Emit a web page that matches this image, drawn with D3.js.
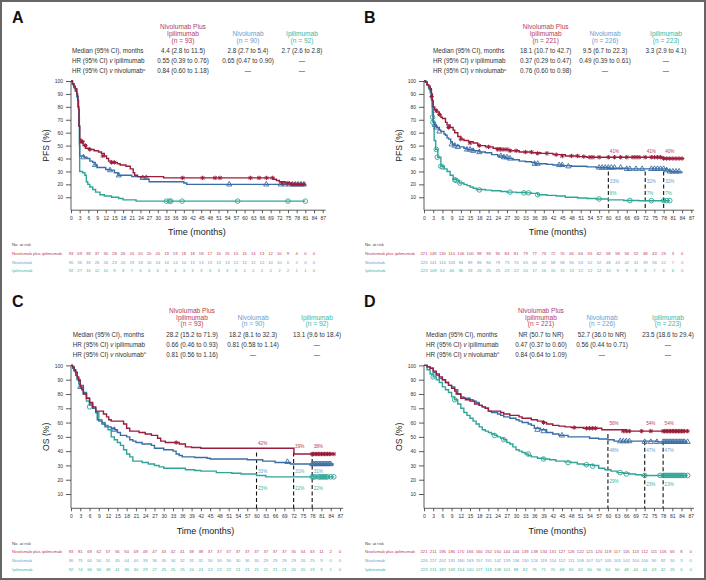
<!DOCTYPE html>
<html><head><meta charset="utf-8">
<script src="https://cdn.jsdelivr.net/npm/d3@7"></script>
<style>body{margin:0;background:#fff}svg{display:block}text{font-family:"Liberation Sans",Arial,sans-serif}</style>
</head><body><svg id="c" width="706" height="580"></svg>
<script>
// ---------- DATA ----------
const seriesNames = ["Nivolumab plus ipilimumab","Nivolumab","Ipilimumab"];
const xTickLabels = [0,3,6,9,12,15,18,21,24,27,30,33,36,39,42,45,48,51,54,57,60,63,66,69,72,75,78,81,84,87];
const yTickLabels = [10,20,30,40,50,60,70,80,90,100];
const landmarkMonths = [60,72,78];

// Panel A (PFS, stage III?)
const headA = {n:[93,90,92], median:["4.4 (2.8 to 11.5)","2.8 (2.7 to 5.4)","2.7 (2.6 to 2.8)"], hrIpi:["0.55 (0.39 to 0.76)","0.65 (0.47 to 0.90)","—"], hrNivo:["0.84 (0.60 to 1.18)","—","—"]};
const aNI = [[0,100],[0.5,98],[1,96],[1.5,94],[2,90],[2.3,85],[2.6,78],[2.8,65],[3,55],[3.5,53],[4.2,50],[5,48],[6.5,47],[8,46],[9.5,45],[10.5,44],[11.5,42],[12.3,40],[13,38],[14,37],[16,36],[17,35],[19,34],[20.5,32],[21.5,29],[22,27],[23,26],[32,25],[70,24],[71,23],[72,22],[74,21],[76,20],[81,20]];
const aNivo = [[0,100],[0.5,98],[1,95],[1.5,92],[2,88],[2.4,80],[2.7,65],[3,42],[4.5,41],[5.5,40],[6.5,38],[7.5,37],[8.3,35],[9,33],[12,31.5],[13.4,31],[15,29],[16.3,27],[21,26],[24,25],[26,24],[27,22],[39,21],[40,20],[81,20]];
const aIpi = [[0,100],[0.5,97],[1,95],[1.5,93],[2,88],[2.4,80],[2.7,72],[2.9,50],[3,30],[4,29],[4.8,27],[5.3,22],[5.8,20],[6.5,18],[7.5,16],[8.5,14],[10,12],[11.5,11],[14,10],[16.5,9],[18,8],[22.5,7],[81,7]];
const aNIcens = [[3.5,53],[4,53],[5,50],[6.5,47],[11,42],[14,37],[15,37],[38.6,25],[45.5,25],[49.8,25],[51.5,25],[62,25],[65,25],[67.6,25],[69.7,25],[73,21],[75,21],[76.5,20],[77.5,20],[78.5,20],[79.5,20],[80.5,20]];
const aNivoCens = [[4.3,41],[8.3,35],[13.5,31],[16.5,27],[24.8,25],[26,25],[54.7,20],[67.5,20],[72.5,20],[74,20],[75.5,20],[76.5,20],[77.5,20],[78.5,20],[79.5,20],[80.5,20]];
const aIpiCens = [[33,7],[34,7],[34.5,7],[38.4,7],[57.6,7],[75,7],[81,7]];
const aRiskNI = [93,69,39,37,30,28,26,24,20,20,20,19,19,18,18,18,17,16,15,15,15,14,13,12,10,9,4,0,0];
const aRiskNivo = [90,36,33,26,26,23,20,19,18,16,14,14,14,14,13,13,13,13,13,12,12,12,12,10,10,6,2,0,0];
const aRiskIpi = [92,27,16,12,10,9,8,7,6,6,6,6,4,3,3,3,3,3,3,3,2,2,2,2,2,2,1,1,0];

// Panel B
const headB = {n:[221,226,223], median:["18.1 (10.7 to 42.7)","9.5 (6.7 to 22.3)","3.3 (2.9 to 4.1)"], hrIpi:["0.37 (0.29 to 0.47)","0.49 (0.39 to 0.61)","—"], hrNivo:["0.76 (0.60 to 0.98)","—","—"]};
const bNI = [[0,100],[0.5,99],[1,97],[1.5,96],[2,94],[2.4,90],[2.7,85],[3,80],[3.5,78],[4,76],[5,74],[5.5,72],[6,71],[7,68],[7.5,66],[8.5,64],[9.5,62],[10,60],[11,57],[12,55],[13,54],[14.5,53],[16,52],[17.5,50],[20,49],[22.5,48],[25,47],[28,46],[31,45],[35,44.5],[38,44],[42,43],[46,42],[50,41.5],[53,41],[78,40],[84,40]];
const bNivo = [[0,100],[0.5,99],[1,97],[1.5,95],[2,93],[2.4,88],[2.7,80],[3,68],[3.5,66],[4,64],[5,62],[5.5,61],[6.5,59],[7,58],[7.5,56],[8,55],[8.7,53],[9.2,51],[10,50],[11.5,49],[13,48],[14,47],[16,46],[18,45],[20,44.5],[22,43],[24,42],[26,41],[27,40],[29,39],[31,38],[33,37.5],[35,37],[36,36],[40,35.5],[42,35],[45,34.5],[48,34],[53,33.5],[56,33],[60,32.5],[66,32],[78,32],[79,31],[80,30],[83,29.5],[84,29]];
const bIpi = [[0,100],[0.5,99],[1,97],[1.5,94],[2,91],[2.4,85],[2.7,75],[2.9,72],[3,68],[3.3,54],[3.8,47],[4.5,41],[5.5,34],[6.5,32],[7.5,30],[8.5,27],[9.5,24],[10.5,23],[11.5,21],[13,20],[14,19],[15,18],[16,17],[17,16],[20,15.5],[22,15],[25,14.5],[27,14],[30,13.7],[33,13.4],[35,13],[37,12],[40,11.5],[43,11],[46,10],[50,9.5],[53,9],[56,8.7],[60,8],[65,7.5],[70,7.3],[80,7.3]];
const bNIcens = [[2.5,88],[4,77],[5,74],[8,64],[12,55],[15,52],[18,50],[21,49],[24,47],[25,47],[26,47],[27,47],[28,46],[30,46],[33,45],[35,45],[37,44],[40,44],[43,43],[45,42],[48,42],[50,42],[52,41.5],[54,41],[55,41],[57,41],[60,41],[62,41],[64,41],[66,41],[68,41],[69,41],[70,41],[72,41],[74,41],[75,41],[76,41],[77,41],[78,40],[79,40],[80,40],[81,40],[82,40],[83,40],[84,40]];
const bNivoCens = [[3.5,66],[4,64],[5,61],[9,51],[10,50],[11,49],[14,47],[15,47],[16,46],[18,45],[25,42],[26,41],[27,41],[28,40],[36,36],[37,36],[44,35],[45,35],[47,34],[57,33],[58,33],[59,33],[60,33],[61,33],[62,33],[64,33],[66,32],[67,32],[69,32],[71,32],[74,32],[75,32],[76,32],[77,32],[78,32],[79,31],[80,30],[81,30],[82,30],[83,30]];
const bIpiCens = [[2.8,72],[2.9,68],[4,47],[4.3,41],[5.5,34],[6,33.5],[10,23.5],[10.5,23],[11.7,21],[18,15.7],[28,14],[32.5,13.4],[34,13.4],[37,12],[57,8.7],[67,7.5],[74,7.4],[78,7.4],[79,7.4],[80,7.4]];
const bRiskNI = [221,149,135,110,106,100,98,93,90,84,81,79,77,73,72,70,66,66,65,62,58,58,56,52,48,43,25,3,0];
const bRiskNivo = [226,141,116,105,94,89,86,84,79,73,70,65,64,62,58,58,55,53,52,52,48,43,42,41,39,36,22,7,0];
const bRiskIpi = [223,109,62,46,36,33,26,25,25,23,22,20,17,16,15,15,13,12,12,12,10,9,9,8,8,7,6,6,0];
const bLandTop = [30,30,30];
const bLabels = [["41%","41%","40%"],["33%","32%","32%"],["8%","7%","7%"]];
const bLabelPct = [[45.8,45.8,45.8],[22.6,22.6,22.6],[12.8,12.8,12.8]];

// Panel C
const headC = {n:[93,90,92], median:["28.2 (15.2 to 71.9)","18.2 (8.1 to 32.3)","13.1 (9.6 to 18.4)"], hrIpi:["0.66 (0.46 to 0.93)","0.81 (0.58 to 1.14)","—"], hrNivo:["0.81 (0.56 to 1.16)","—","—"]};
const cNI = [[0,100],[0.5,99],[1,97],[1.5,95],[2,92],[2.5,89],[3,85],[3.5,83],[4,80],[5,77],[6,74],[7,71],[8,68],[10,68],[10.5,66],[11.5,64],[12.2,62],[13,61],[16,61],[17,59],[18,56],[19,54],[22,53],[24,52],[26,51],[28,49],[29,47],[30.5,46],[35,45],[37,43],[39,42.5],[42,42],[72,42],[72.1,38],[85,38]];
const cNivo = [[0,100],[0.5,98],[1,96],[1.5,93],[2,90],[3,86],[4,81],[5,77],[6,73],[7,70],[8,67],[8.5,62],[9,61],[10,59],[11,57],[13,56],[14,55],[15,53],[16,51],[18,50],[19,48],[20,47],[21,46],[23,45],[26,44],[27,42],[30,41],[33,40],[34,38],[35,37],[36,36],[40,35.5],[44,35],[45,34.5],[57,34],[62,33],[66,32],[71,31],[85,31]];
const cIpi = [[0,100],[0.5,99],[1,97],[1.5,95],[2,91],[2.5,87],[3,84],[4,80],[5,75],[6,72],[7,70],[8,67],[9,62],[10,60],[11,58],[12,55],[13,50],[14,48],[15,46],[16,44],[17,41],[18,38],[19,36],[20,33],[23,32],[25,31],[27,30],[28.5,29],[30,28],[37,27],[40,26.5],[42,26],[47,25],[52,24.5],[55,24],[60,23],[63,22],[85,22]];
const cNIcens = [[34,46],[78,38],[78.5,38],[79,38],[79.5,38],[80,38],[80.5,38],[81,38],[81.5,38],[82,38],[82.5,38],[83,38],[83.5,38],[84,38],[85,38]];
const cNivoCens = [[3,85],[14,55],[70,32.5],[78,31],[78.5,31],[79,31],[79.5,31],[80,31],[80.5,31],[81,31],[81.5,31],[82,31],[82.5,31],[83,31],[83.5,31],[84,31]];
const cIpiCens = [[6,71],[78,22],[78.5,22],[79,22],[80,22],[80.5,22],[81,22],[81.5,22],[82,22],[82.5,22],[83,22],[84,22],[85,22]];
const cRiskNI = [93,81,69,62,57,56,50,49,48,47,43,42,41,38,38,37,37,37,37,37,37,37,37,37,35,34,33,11,2,0];
const cRiskNivo = [90,75,64,54,51,45,44,40,39,36,35,34,32,31,31,30,30,30,30,30,30,29,29,29,29,26,25,9,0,0];
const cRiskIpi = [92,74,66,56,49,41,36,30,29,27,25,25,25,24,24,23,22,22,21,21,21,21,21,21,20,20,19,9,1,0];
const cLandTop = [39,39,39];
const cLabels = [["42%","39%","38%"],["33%","31%","31%"],["23%","22%","22%"]];
const cLabelPct = [[45.5,43.1,43.1],[26.1,26.1,26.1],[14,14,14]];

// Panel D
const headD = {n:[221,226,223], median:["NR (50.7 to NR)","52.7 (36.0 to NR)","23.5 (18.6 to 29.4)"], hrIpi:["0.47 (0.37 to 0.60)","0.56 (0.44 to 0.71)","—"], hrNivo:["0.84 (0.64 to 1.09)","—","—"]};
const dNI = [[0,100],[1,99],[2,98],[3,96],[4,94],[5,92],[6,90],[7,88],[8,86],[9,84],[10,82],[10.5,80],[12,77],[13.5,76],[15,75],[16.5,73],[18,72],[19,71],[20,70],[21,68],[24,68],[25,67],[26,66],[28,65],[31,64],[32,63],[35,62],[37,61],[39,60],[40,59],[42,58],[44,57.5],[46,57],[48,56.5],[52,56],[57,56],[58,55],[63,55],[66,54],[86,54]];
const dNivo = [[0,100],[1,99],[2,98],[3,95],[4,93],[5,91],[6,90],[7,88],[8,86],[9,85],[10,83],[11,80],[12,78],[13,77],[15,76],[16,75],[17,74],[18,72],[19,71],[20,70],[21,68],[22,67],[24,66],[25,65],[26,64],[28,63],[30,62],[31,61],[32,60],[34,59],[35,58],[36,56],[38,55],[40,53],[42,52],[44,51],[47,50],[52,50],[54,49],[57,48.5],[60,48],[62,47],[70,47],[76,46.5],[86,46.5]];
const dIpi = [[0,100],[1,97],[2,94],[3,92],[4,90],[5,88],[6,85],[7,83],[8,81],[9,78],[10,76],[11,73],[12,70],[13,67],[14,65],[15,63],[16,61],[17,59],[18,57],[19,55],[20,54],[21,53],[22,52],[23,51],[24,50],[25,49],[26,48],[27,46],[28,45],[29,43],[30,41],[31,40],[32,39],[33,38],[34,37],[35,36],[37,35],[39,34.5],[41,34],[43,33],[46,32.5],[48,32],[50,31],[52,30.5],[55,30],[57,28],[59,27],[61,26],[63,25],[65,24.5],[67,24],[69,23.5],[71,23],[86,23]];
const dNIcens = [[39,60],[49,56.5],[53,56],[54,56],[55,56],[56,56],[65,54],[66,54],[67,54],[71,54],[74,54],[78,54],[78.5,54],[79,54],[79.5,54],[80,54],[80.5,54],[81,54],[81.5,54],[82,54],[82.5,54],[83,54],[83.5,54],[84,54],[84.5,54],[85,54],[86,54]];
const dNivoCens = [[37,55],[39,54],[45,51],[64,47],[65,47],[66,47],[67,47],[72,46.5],[74,46.5],[76,46.5],[78,46.5],[78.5,46.5],[79,46.5],[79.5,46.5],[80,46.5],[80.5,46.5],[81,46.5],[81.5,46.5],[82,46.5],[82.5,46.5],[83,46.5],[83.5,46.5],[84,46.5],[84.5,46.5],[85,46.5],[86,46.5]];
const dIpiCens = [[3,92],[10,76],[23,51],[26,48],[34,38],[39,34.5],[47,32],[53,30.5],[55,29.5],[64,25],[66,24],[72,23],[77,23],[78,23],[78.5,23],[79,23],[79.5,23],[80,23],[80.5,23],[81,23],[81.5,23],[82,23],[82.5,23],[83,23],[83.5,23],[84,23],[84.5,23],[85,23],[86,23]];
const dRiskNI = [221,211,196,186,170,166,160,152,150,144,144,139,138,134,131,127,126,122,121,120,119,117,116,113,112,111,105,65,8,0];
const dRiskNivo = [226,217,202,191,180,169,157,151,142,139,136,130,126,119,114,112,111,109,107,107,105,103,102,100,100,96,92,50,3,0];
const dRiskIpi = [223,211,187,169,154,140,127,118,108,101,88,82,75,71,70,68,65,62,60,56,54,50,48,44,44,43,42,25,6,0];
const dLandTop = [52,47,47];
const dLabels = [["56%","54%","54%"],["48%","47%","47%"],["29%","23%","23%"]];
const dLabelPct = [[59.4,59.4,59.4],[40.3,40.3,40.3],[18.6,16.8,16.8]];

// ---------- STYLE ----------
const lineCol = ["#9b1d3c","#3a6da6","#2fa596"];
const textCol = ["#b73a5c","#6b9dd0","#39b8a3"];
const svg = d3.select("#c");
svg.append("rect").attr("x",1).attr("y",1).attr("width",704).attr("height",578).attr("fill","none").attr("stroke","#666").attr("stroke-width",2);

function drawPanel(p){
  const g = svg.append("g");
  const x = d3.scaleLinear().domain([0,87]).range([p.x0,p.x1]);
  const y = d3.scaleLinear().domain([0,100]).range([p.yb,p.yt]);
  // letter
  g.append("text").attr("x",p.lx).attr("y",p.ly).text(p.letter).attr("font-size",16).attr("font-weight","bold").attr("fill","#111");
  // header table
  const hd = p.head;
  const hdrs = [["Nivolumab Plus","Ipilimumab",`(n = ${hd.n[0]})`],["Nivolumab",`(n = ${hd.n[1]})`],["Ipilimumab",`(n = ${hd.n[2]})`]];
  hdrs.forEach((lines,i)=>{
    lines.forEach((t,j)=>{
      const row = lines.length===3? j : j+1;
      g.append("text").attr("x",p.cols[i]).attr("y",p.hy[row]).attr("text-anchor","middle").attr("font-size",6.6).attr("fill",textCol[i]).text(t);
    });
  });
  const rows = [["Median (95% CI), months",hd.median],["HR (95% CI) ",hd.hrIpi,"v","ipilimumab"],["HR (95% CI) ",hd.hrNivo,"v","nivolumab","a"]];
  rows.forEach((r,k)=>{
    const t = g.append("text").attr("x",p.rx).attr("y",p.ry[k]).attr("font-size",6.3).attr("fill","#333");
    t.append("tspan").text(r[0]);
    if(r[2]){t.append("tspan").attr("font-style","italic").text(r[2]+" ");t.append("tspan").text(r[3]);}
    if(r[4]){t.append("tspan").attr("dy",-2.5).attr("font-size",4).text(r[4]);}
    r[1].forEach((v,i)=>{
      g.append("text").attr("x",p.cols[i]).attr("y",p.ry[k]).attr("text-anchor","middle").attr("font-size",6.3).attr("fill","#333").text(v);
    });
  });
  // axes
  const xa = g.append("g").attr("transform",`translate(0,${p.yb})`)
    .call(d3.axisBottom(x).tickValues(xTickLabels).tickSize(3).tickPadding(3));
  xa.select(".domain").attr("d",`M${p.x0},0H${p.xe}`);
  const ya = g.append("g").attr("transform",`translate(${p.x0},0)`)
    .call(d3.axisLeft(y).tickValues(yTickLabels).tickSize(5).tickPadding(3));
  ya.select(".domain").attr("d",`M0,${p.yb}V${p.yt}`);
  g.selectAll(".tick text").attr("font-size",5).attr("fill","#333").attr("font-family","Liberation Sans, Arial, sans-serif");
  g.selectAll(".domain,.tick line").attr("stroke","#333").attr("stroke-width",0.8);
  g.append("text").attr("x",(p.x0+p.x1)/2).attr("y",p.tly).attr("text-anchor","middle").attr("font-size",9).attr("fill","#222").text("Time (months)");
  g.append("text").attr("transform",`translate(${p.x0-22},${(p.yt+p.yb)/2}) rotate(-90)`).attr("text-anchor","middle").attr("font-size",8.6).attr("fill","#222").text(p.ylab);
  // landmark lines
  if(p.landTop){
    landmarkMonths.forEach((m,i)=>{
      g.append("line").attr("x1",x(m)).attr("x2",x(m)).attr("y1",y(p.landTop[i])).attr("y2",p.yb)
        .attr("stroke","#111").attr("stroke-width",1.1).attr("stroke-dasharray","4,2.5");
    });
  }
  const line = d3.line().x(d=>x(d[0])).y(d=>y(d[1])).curve(d3.curveStepAfter);
  // curves: draw ipi first then nivo then NI
  [2,1,0].forEach(i=>{
    g.append("path").attr("d",line(p.curves[i])).attr("fill","none").attr("stroke",lineCol[i]).attr("stroke-width",1.4);
    const cs = p.cens[i];
    cs.forEach(c=>{
      const cx=x(c[0]), cy=y(c[1]);
      if(i===0){
        g.append("path").attr("d",`M${cx-2.2},${cy}H${cx+2.2}M${cx},${cy-2.2}V${cy+2.2}M${cx-1.6},${cy-1.6}L${cx+1.6},${cy+1.6}M${cx-1.6},${cy+1.6}L${cx+1.6},${cy-1.6}`).attr("stroke",lineCol[0]).attr("stroke-width",1);
      } else if(i===1){
        g.append("path").attr("d",`M${cx},${cy-3}L${cx+2.6},${cy+1.6}L${cx-2.6},${cy+1.6}Z`).attr("fill","none").attr("stroke",lineCol[1]).attr("stroke-width",0.9);
      } else {
        g.append("circle").attr("cx",cx).attr("cy",cy).attr("r",2.3).attr("fill","none").attr("stroke",lineCol[2]).attr("stroke-width",0.9);
      }
    });
  });
  // landmark labels
  if(p.labels){
    p.labels.forEach((arr,i)=>arr.forEach((t,j)=>{
      g.append("text").attr("x",x(landmarkMonths[j])+1.5).attr("y",y(p.labelPct[i][j])+1.7).attr("font-size",4.6).attr("fill",textCol[i]).text(t);
    }));
  }
  // at risk
  g.append("text").attr("x",p.rlx).attr("y",p.ary[0]+1.5).attr("font-size",4.2).attr("fill","#444").text("No. at risk");
  p.risk.forEach((arr,i)=>{
    g.append("text").attr("x",p.rlx).attr("y",p.ary[i+1]+1.5).attr("font-size",4.2).attr("fill",textCol[i]).text(seriesNames[i]);
    arr.forEach((v,j)=>{
      g.append("text").attr("x",x(xTickLabels[j])).attr("y",p.ary[i+1]+1.5).attr("text-anchor","middle").attr("font-size",4.2).attr("fill",textCol[i]).text(v);
    });
  });
}

drawPanel({letter:"A",lx:12,ly:23,head:headA,cols:[183,248,302],hy:[29.2,36,42.8],rx:72,ry:53.2,ry:[53.2,63.2,73.2],
  x0:71,x1:322.7,xe:325.7,yt:81,yb:210.2,tly:235,ylab:"PFS (%)",
  curves:[aNI,aNivo,aIpi],cens:[aNIcens,aNivoCens,aIpiCens],risk:[aRiskNI,aRiskNivo,aRiskIpi],rlx:12,ary:[244.3,253.3,262,270.7]});
drawPanel({letter:"B",lx:364,ly:23,head:headB,cols:[545.7,605,666],hy:[29.2,36,42.8],rx:433,ry:[53.2,63.2,73.2],
  x0:424,x1:691.3,xe:694,yt:81,yb:210.2,tly:235,ylab:"PFS (%)",
  curves:[bNI,bNivo,bIpi],cens:[bNIcens,bNivoCens,bIpiCens],risk:[bRiskNI,bRiskNivo,bRiskIpi],rlx:365,ary:[244.3,253.3,262,270.7],
  landTop:bLandTop,labels:bLabels,labelPct:bLabelPct});
drawPanel({letter:"C",lx:12,ly:307,head:headC,cols:[192,253,317],hy:[313,319.7,326.4],rx:72.7,ry:[336.5,346.5,356.5],
  x0:71,x1:340,xe:343,yt:365.4,yb:508.3,tly:533.5,ylab:"OS (%)",
  curves:[cNI,cNivo,cIpi],cens:[cNIcens,cNivoCens,cIpiCens],risk:[cRiskNI,cRiskNivo,cRiskIpi],rlx:12,ary:[543.3,551.7,560.7,569.3],
  landTop:cLandTop,labels:cLabels,labelPct:cLabelPct});
drawPanel({letter:"D",lx:364,ly:307,head:headD,cols:[541,602,668],hy:[313,319.7,326.4],rx:426,ry:[336.5,346.5,356.5],
  x0:424,x1:690.7,xe:694,yt:365.4,yb:508.3,tly:533.5,ylab:"OS (%)",
  curves:[dNI,dNivo,dIpi],cens:[dNIcens,dNivoCens,dIpiCens],risk:[dRiskNI,dRiskNivo,dRiskIpi],rlx:365,ary:[543.3,551.7,560.7,569.3],
  landTop:dLandTop,labels:dLabels,labelPct:dLabelPct});
</script></body></html>
